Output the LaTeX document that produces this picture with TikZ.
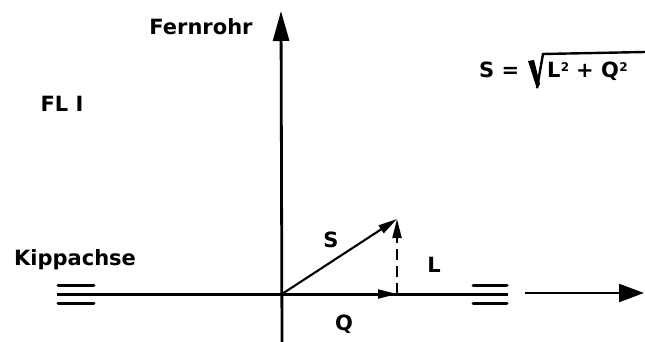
\documentclass[tikz,border=0pt]{standalone}
\usepackage{fontspec}
\setmainfont{DejaVu Sans}
\usetikzlibrary{arrows.meta,positioning}
\begin{document}
\begin{tikzpicture}[x=1pt,y=-1pt,
  lbl/.style={font=\fontsize{21}{24}\selectfont\bfseries,inner sep=0pt,anchor=base},
  sup/.style={font=\fontsize{12}{14}\selectfont\bfseries,inner sep=0pt,anchor=north west},
  axis/.style={line width=3pt,draw=black},
  big/.style={-{Triangle[length=30pt,width=16pt]},line width=2.8pt},
  vec/.style={-{Triangle[length=19pt,width=9pt]},line width=2.1pt},
  bar/.style={line width=3pt,line cap=round},
  rad/.style={line width=2.4pt,line join=miter}
]
\useasboundingbox (0,0) rectangle (645,342);
\coordinate (O) at (282,294);
\coordinate (P) at (397,294);
\coordinate (T) at (397,219);
\coordinate (bot) at (282,342);
\coordinate (top) at (281,11);
\coordinate (west) at (57,294);
\coordinate (east) at (508,294);
\coordinate (tail) at (525,293);
\coordinate (head) at (644,293);
\draw[big] (bot) -- (top);
\draw[axis] (west) -- (east);
\foreach \yy in {285,303}{
  \draw[bar] (58,\yy) -- (94,\yy);
  \draw[bar] (473,\yy) -- (507,\yy);
}
\draw[big,line width=2.2pt,-{Triangle[length=25pt,width=18pt]}] (tail) -- (head);
\draw[vec] (O) -- (P);
\draw[vec] (O) -- (T);
\draw[vec,dash pattern=on 11pt off 6pt] (P) -- (T);
\node[lbl] (fernrohr) at (201,35) {Fernrohr};
\node[lbl] (fl) at (62,112) {FL I};
\node[lbl] (kipp) at (75,265) {Kippachse};
\node[lbl] (lblS) at (331,247) {S};
\node[lbl] (lblL) at (434,272) {L};
\node[lbl] (lblQ) at (344,330) {Q};
\node[lbl,anchor=base west] (frmS) at (479,78) {S =};
\node[lbl,anchor=base west] (frmL) at (547,78) {L};
\node[sup] (supL) at (frmL.north east) {2};
\node[lbl,anchor=base west] (frmQ) at (576,78) {+ Q};
\node[sup] (supQ) at (frmQ.north east) {2};
\fill (528,61) -- (534,60) -- (540,84) -- (537,89) -- cycle;
\draw[rad] (537,88) -- (543,54) -- (645,52);
\end{tikzpicture}
\end{document}
